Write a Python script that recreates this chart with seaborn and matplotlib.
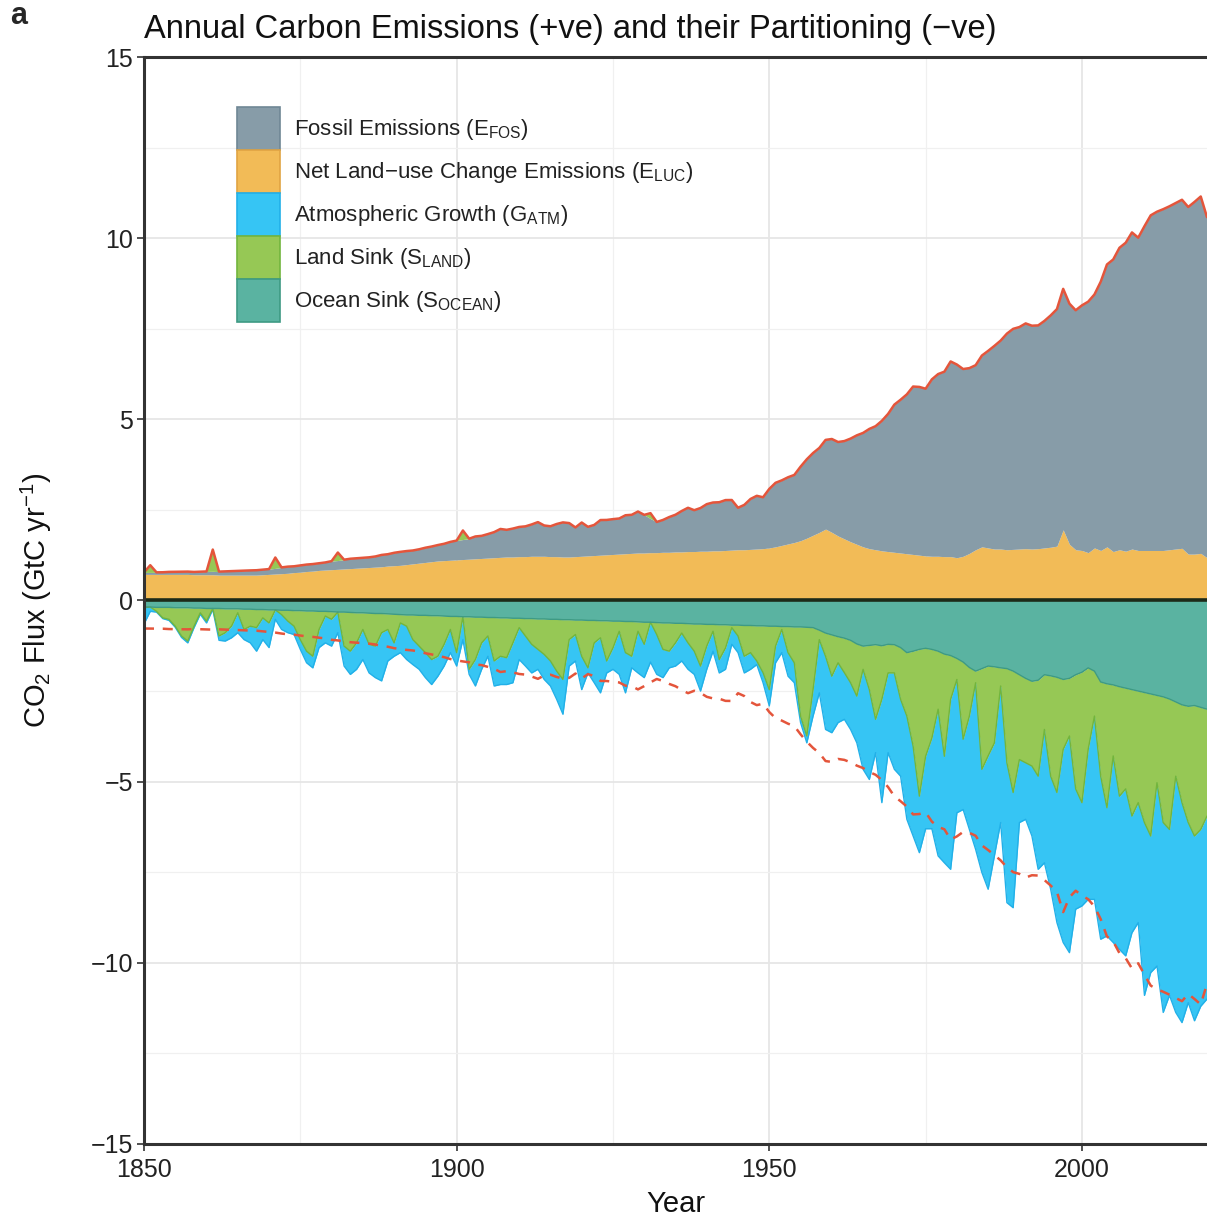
import numpy as np
import pandas as pd
import matplotlib
matplotlib.use("Agg")
import matplotlib.pyplot as plt
import seaborn as sns
from matplotlib.patches import Patch
from matplotlib.ticker import MultipleLocator

# annual fluxes, GtC/yr, 1850-2020
years = np.arange(1850, 2021)

fossil = [0.054, 0.054, 0.057, 0.059, 0.069, 0.071, 0.076, 0.077, 0.078, 0.083,
          0.091, 0.095, 0.097, 0.104, 0.112, 0.119, 0.122, 0.130, 0.135, 0.142,
          0.147, 0.156, 0.173, 0.184, 0.174, 0.188, 0.191, 0.195, 0.196, 0.210,
          0.236, 0.243, 0.256, 0.272, 0.275, 0.277, 0.281, 0.295, 0.327, 0.327,
          0.356, 0.372, 0.374, 0.370, 0.383, 0.406, 0.419, 0.440, 0.465, 0.507,
          0.534, 0.552, 0.566, 0.617, 0.624, 0.663, 0.707, 0.784, 0.750, 0.785,
          0.819, 0.836, 0.879, 0.943, 0.850, 0.838, 0.901, 0.955, 0.936, 0.806,
          0.932, 0.803, 0.845, 0.970, 0.963, 0.975, 0.983, 1.062, 1.065, 1.145,
          1.053, 0.940, 0.847, 0.893, 0.973, 1.027, 1.130, 1.209, 1.142, 1.192,
          1.299, 1.334, 1.342, 1.391, 1.383, 1.160, 1.238, 1.392, 1.469, 1.419,
          1.630, 1.768, 1.796, 1.841, 1.865, 2.043, 2.178, 2.270, 2.330, 2.462,
          2.577, 2.594, 2.700, 2.848, 3.008, 3.145, 3.305, 3.411, 3.588, 3.800,
          4.076, 4.231, 4.399, 4.635, 4.644, 4.615, 4.883, 5.029, 5.105, 5.387,
          5.332, 5.168, 5.113, 5.094, 5.280, 5.439, 5.607, 5.753, 5.965, 6.087,
          6.127, 6.217, 6.164, 6.162, 6.266, 6.398, 6.542, 6.651, 6.643, 6.610,
          6.765, 6.927, 6.996, 7.416, 7.793, 8.062, 8.334, 8.514, 8.738, 8.634,
          8.950, 9.250, 9.350, 9.420, 9.480, 9.550, 9.620, 9.580, 9.720, 9.850,
          9.400]

luc = [0.72, 0.72, 0.72, 0.72, 0.72, 0.72, 0.72, 0.72, 0.71, 0.71,
       0.71, 0.71, 0.70, 0.70, 0.70, 0.70, 0.70, 0.70, 0.70, 0.71,
       0.72, 0.73, 0.74, 0.75, 0.77, 0.78, 0.80, 0.81, 0.83, 0.84,
       0.85, 0.86, 0.87, 0.88, 0.89, 0.90, 0.91, 0.92, 0.93, 0.95,
       0.96, 0.97, 0.99, 1.01, 1.03, 1.05, 1.07, 1.09, 1.10, 1.11,
       1.12, 1.13, 1.14, 1.15, 1.16, 1.17, 1.18, 1.19, 1.20, 1.20,
       1.21, 1.21, 1.22, 1.22, 1.22, 1.21, 1.21, 1.20, 1.20, 1.21,
       1.22, 1.23, 1.24, 1.25, 1.26, 1.27, 1.28, 1.29, 1.30, 1.31,
       1.31, 1.32, 1.32, 1.33, 1.33, 1.34, 1.34, 1.35, 1.35, 1.36,
       1.36, 1.37, 1.37, 1.38, 1.39, 1.40, 1.40, 1.41, 1.42, 1.43,
       1.45, 1.48, 1.52, 1.56, 1.60, 1.65, 1.72, 1.80, 1.88, 1.97,
       1.88, 1.78, 1.70, 1.62, 1.55, 1.48, 1.43, 1.40, 1.37, 1.35,
       1.33, 1.31, 1.29, 1.27, 1.25, 1.23, 1.22, 1.22, 1.21, 1.21,
       1.18, 1.22, 1.30, 1.40, 1.48, 1.45, 1.42, 1.42, 1.40, 1.41,
       1.42, 1.43, 1.42, 1.43, 1.45, 1.47, 1.50, 1.95, 1.55, 1.40,
       1.38, 1.32, 1.45, 1.38, 1.48, 1.35, 1.40, 1.36, 1.42, 1.38,
       1.38, 1.38, 1.38, 1.38, 1.40, 1.42, 1.44, 1.28, 1.28, 1.30,
       1.18]

atm = [0.45, 0.12, 0.02, 0.02, 0.03, 0.03, 0.04, 0.05, 0.04, 0.04,
       0.05, 0.03, 0.12, 0.23, 0.32, 0.55, 0.28, 0.46, 0.65, 0.60,
       0.68, 0.26, 0.41, 0.32, 0.23, 0.27, 0.32, 0.32, 0.50, 0.74,
       0.74, 0.57, 0.55, 0.64, 0.73, 0.83, 0.79, 0.87, 1.33, 0.87,
       0.37, 0.82, 0.92, 0.69, 0.64, 0.69, 0.69, 0.55, 0.60, 0.64,
       0.37, 0.63, 0.14, 0.73, 0.73, 0.56, 0.69, 0.78, 0.74, 1.10,
       0.88, 0.83, 0.79, 0.55, 0.69, 0.69, 0.78, 0.96, 0.73, 0.73,
       0.92, 0.14, 1.10, 1.52, 0.33, 0.59, 1.19, 1.11, 0.32, 1.15,
       0.92, 1.10, 1.10, 0.78, 0.46, 0.64, 0.77, 0.73, 0.64, 0.69,
       0.64, 0.55, 0.37, 0.59, 0.46, 0.46, 0.46, 0.46, 0.10, 0.28,
       0.45, 0.46, 0.64, 0.65, 0.55, 0.18, 0.19, 0.73, 1.47, 2.02,
       1.56, 1.65, 1.29, 1.29, 1.29, 2.76, 2.48, 0.92, 2.85, 2.20,
       2.66, 2.12, 2.85, 2.48, 1.56, 2.00, 2.50, 4.05, 2.94, 4.69,
       3.68, 1.94, 3.13, 4.60, 2.85, 3.68, 3.12, 3.77, 3.86, 3.18,
       1.74, 1.56, 1.93, 2.57, 3.68, 3.12, 3.59, 5.33, 5.98, 3.32,
       2.85, 4.14, 5.06, 4.50, 3.54, 5.15, 4.23, 4.61, 3.22, 3.31,
       4.77, 3.77, 5.06, 5.24, 4.58, 6.52, 6.07, 4.97, 5.10, 4.88,
       5.05]

land = [0.02, -0.20, 0.11, 0.29, 0.33, 0.51, 0.78, 0.92, 0.50, 0.13,
        0.35, -0.60, 0.76, 0.66, 0.48, 0.11, 0.56, 0.47, 0.50, 0.23,
        0.36, -0.30, 0.12, 0.30, 0.43, 0.80, 1.11, 1.25, 0.50, 0.13,
        0.21, -0.22, 0.94, 1.07, 0.83, 0.46, 0.86, 0.90, 0.53, 0.43,
        0.79, 0.23, 0.31, 0.68, 0.85, 1.03, 1.21, 1.12, 0.78, 0.36,
        1.00, -0.25, 1.45, 1.17, 0.71, 0.51, 1.20, 1.06, 1.10, 0.68,
        0.26, 0.48, 0.71, 0.84, 0.98, 1.15, 1.43, 1.65, 0.55, 0.40,
        1.00, 1.31, 0.62, 0.47, 1.11, 0.74, 0.28, 0.86, 0.96, 0.26,
        0.61, -0.15, 0.33, 0.73, 0.78, 0.54, 0.27, 0.53, 0.75, 1.16,
        0.60, 0.19, 0.96, 0.64, 0.07, 0.30, 0.85, 0.75, 0.97, 1.29,
        1.75, 0.55, 0.08, 0.72, 0.99, 2.46, 3.00, 1.71, 0.26, 0.64,
        1.14, 0.72, 0.95, 1.17, 1.44, 0.64, 1.22, 2.06, 1.48, 0.79,
        0.78, 1.43, 1.75, 2.62, 4.05, 2.98, 2.45, 1.60, 2.82, 1.21,
        0.58, 2.13, 1.34, 0.32, 2.78, 2.48, 2.10, 0.50, 2.60, 3.35,
        2.34, 2.33, 2.34, 2.65, 1.51, 2.77, 3.18, 1.93, 1.59, 3.15,
        3.60, 2.25, 1.24, 2.60, 3.42, 1.96, 3.02, 2.78, 3.49, 3.08,
        3.59, 3.92, 2.41, 3.47, 3.60, 2.05, 2.70, 3.21, 3.60, 3.37,
        2.95]

ocean = [0.18, 0.18, 0.19, 0.19, 0.19, 0.20, 0.20, 0.20, 0.21, 0.21,
         0.22, 0.22, 0.22, 0.23, 0.23, 0.23, 0.24, 0.24, 0.25, 0.25,
         0.26, 0.26, 0.27, 0.27, 0.28, 0.28, 0.29, 0.29, 0.30, 0.30,
         0.31, 0.32, 0.32, 0.33, 0.34, 0.34, 0.35, 0.36, 0.36, 0.37,
         0.38, 0.39, 0.40, 0.40, 0.41, 0.41, 0.42, 0.42, 0.43, 0.44,
         0.44, 0.45, 0.45, 0.46, 0.46, 0.47, 0.47, 0.48, 0.48, 0.49,
         0.49, 0.50, 0.50, 0.51, 0.51, 0.52, 0.52, 0.53, 0.53, 0.54,
         0.54, 0.55, 0.55, 0.56, 0.56, 0.57, 0.57, 0.58, 0.58, 0.59,
         0.60, 0.60, 0.61, 0.62, 0.62, 0.63, 0.63, 0.64, 0.65, 0.65,
         0.66, 0.66, 0.67, 0.67, 0.68, 0.68, 0.69, 0.69, 0.70, 0.70,
         0.71, 0.71, 0.72, 0.72, 0.73, 0.73, 0.74, 0.75, 0.82, 0.90,
         0.95, 1.00, 1.04, 1.10, 1.20, 1.26, 1.24, 1.22, 1.25, 1.21,
         1.22, 1.30, 1.44, 1.40, 1.35, 1.32, 1.35, 1.40, 1.48, 1.52,
         1.60, 1.70, 1.85, 1.95, 1.88, 1.81, 1.83, 1.86, 1.88, 1.95,
         2.05, 2.15, 2.23, 2.20, 2.05, 2.08, 2.12, 2.18, 2.15, 2.05,
         1.98, 1.86, 1.95, 2.25, 2.30, 2.33, 2.38, 2.42, 2.46, 2.50,
         2.54, 2.58, 2.62, 2.66, 2.72, 2.80, 2.88, 2.92, 2.90, 2.95,
         3.00]

labels = [r"Fossil Emissions (E$_{\mathregular{FOS}}$)",
          r"Net Land$-$use Change Emissions (E$_{\mathregular{LUC}}$)",
          r"Atmospheric Growth (G$_{\mathregular{ATM}}$)",
          r"Land Sink (S$_{\mathregular{LAND}}$)",
          r"Ocean Sink (S$_{\mathregular{OCEAN}}$)"]
fills = ["#879CA8", "#F2BB57", "#36C5F4", "#96C855", "#5AB3A1"]
edges = ["#6F8795", "#E0A443", "#22B0E8", "#72B53D", "#3E9A84"]
red = "#E4553B"

df = pd.DataFrame({"year": years, "fossil": fossil, "luc": luc, "atm": atm,
                   "land": land, "ocean": ocean})
land_sink = df["land"].clip(lower=0)
land_src = (-df["land"]).clip(lower=0)

# stacked boundaries
pos_luc = df["luc"]
pos_fos = pos_luc + df["fossil"]
pos_top = pos_fos + land_src
neg_ocean = -df["ocean"]
neg_land = neg_ocean - land_sink
neg_atm = neg_land - df["atm"]
emis_mirror = -(df["fossil"] + df["luc"])

sns.set_theme(style="whitegrid")
plt.rcParams["font.family"] = ["Liberation Sans", "DejaVu Sans"]
plt.rcParams["mathtext.fontset"] = "custom"
plt.rcParams["mathtext.rm"] = "Liberation Sans"
plt.rcParams["mathtext.it"] = "Liberation Sans:italic"

fig = plt.figure(figsize=(12.07, 12.18), dpi=100)
ax = fig.add_axes([0.1193, 0.0608, 0.8807, 0.8924])

x = df["year"]
ax.fill_between(x, 0, pos_luc, color=fills[1], lw=0, zorder=2)
ax.fill_between(x, pos_luc, pos_fos, color=fills[0], lw=0, zorder=2)
ax.fill_between(x, pos_fos, pos_top, color=fills[3], lw=0, zorder=2)
ax.fill_between(x, 0, neg_ocean, color=fills[4], lw=0, zorder=2)
ax.fill_between(x, neg_ocean, neg_land, color=fills[3], lw=0, zorder=2)
ax.fill_between(x, neg_land, neg_atm, color=fills[2], lw=0, zorder=2)

sns.lineplot(x=x, y=neg_atm, ax=ax, color=edges[2], lw=1.0, zorder=3)
sns.lineplot(x=x, y=neg_land, ax=ax, color=edges[3], lw=1.0, zorder=3)
sns.lineplot(x=x, y=neg_ocean, ax=ax, color=edges[4], lw=1.0, zorder=3)
sns.lineplot(x=x, y=pos_top, ax=ax, color=red, lw=1.8, zorder=4)
sns.lineplot(x=x, y=emis_mirror, ax=ax, color=red, lw=1.8, zorder=4,
             linestyle=(0, (4, 3.5)))

ax.axhline(0, color="#1D2A18", lw=2.6, zorder=5)

ax.set_xlim(1850, 2020)
ax.set_ylim(-15, 15)
ax.set_xticks([1850, 1900, 1950, 2000])
ax.set_yticks([-15, -10, -5, 0, 5, 10, 15])
ax.set_yticklabels(["\u221215", "\u221210", "\u22125", "0", "5", "10", "15"])
ax.xaxis.set_minor_locator(MultipleLocator(25))
ax.yaxis.set_minor_locator(MultipleLocator(2.5))
ax.grid(which="major", color="#E6E6E6", lw=1.3)
ax.grid(which="minor", color="#F0F0F0", lw=0.9)
ax.set_axisbelow(True)

ax.tick_params(which="major", length=5, width=1.2, color="#333333",
               direction="out", left=True, bottom=True, labelsize=18,
               labelcolor="#222222", pad=3)
ax.tick_params(axis="x", pad=5)
ax.tick_params(which="minor", length=0)
for side in ["left", "bottom", "top"]:
    ax.spines[side].set_color("#333333")
    ax.spines[side].set_linewidth(2.2)
    ax.spines[side].set_zorder(6)
ax.spines["right"].set_visible(False)

ax.set_xlabel("Year", fontsize=21, labelpad=6, color="#111111")
ax.set_ylabel(r"CO$_{\mathregular{2}}$ Flux (GtC yr$^{\mathregular{-1}}$)",
              fontsize=21, labelpad=26, color="#111111")
ax.set_title("Annual Carbon Emissions (+ve) and their Partitioning (\u2212ve)",
             loc="left", fontsize=23.5, pad=14, color="#111111")
fig.text(0.008, 0.9995, "a", fontsize=22, fontweight="bold", va="top")

handles = [Patch(facecolor=f, edgecolor=e, lw=1.2) for f, e in zip(fills, edges)]
ax.legend(handles, labels, loc="upper left", bbox_to_anchor=(0.0875, 0.954),
          frameon=False, fontsize=16, handlelength=1.95, handleheight=2.6,
          labelspacing=0.0, handletextpad=0.6, borderaxespad=0, borderpad=0,
          labelcolor="#222222")

fig.savefig("out.png", dpi=100)
